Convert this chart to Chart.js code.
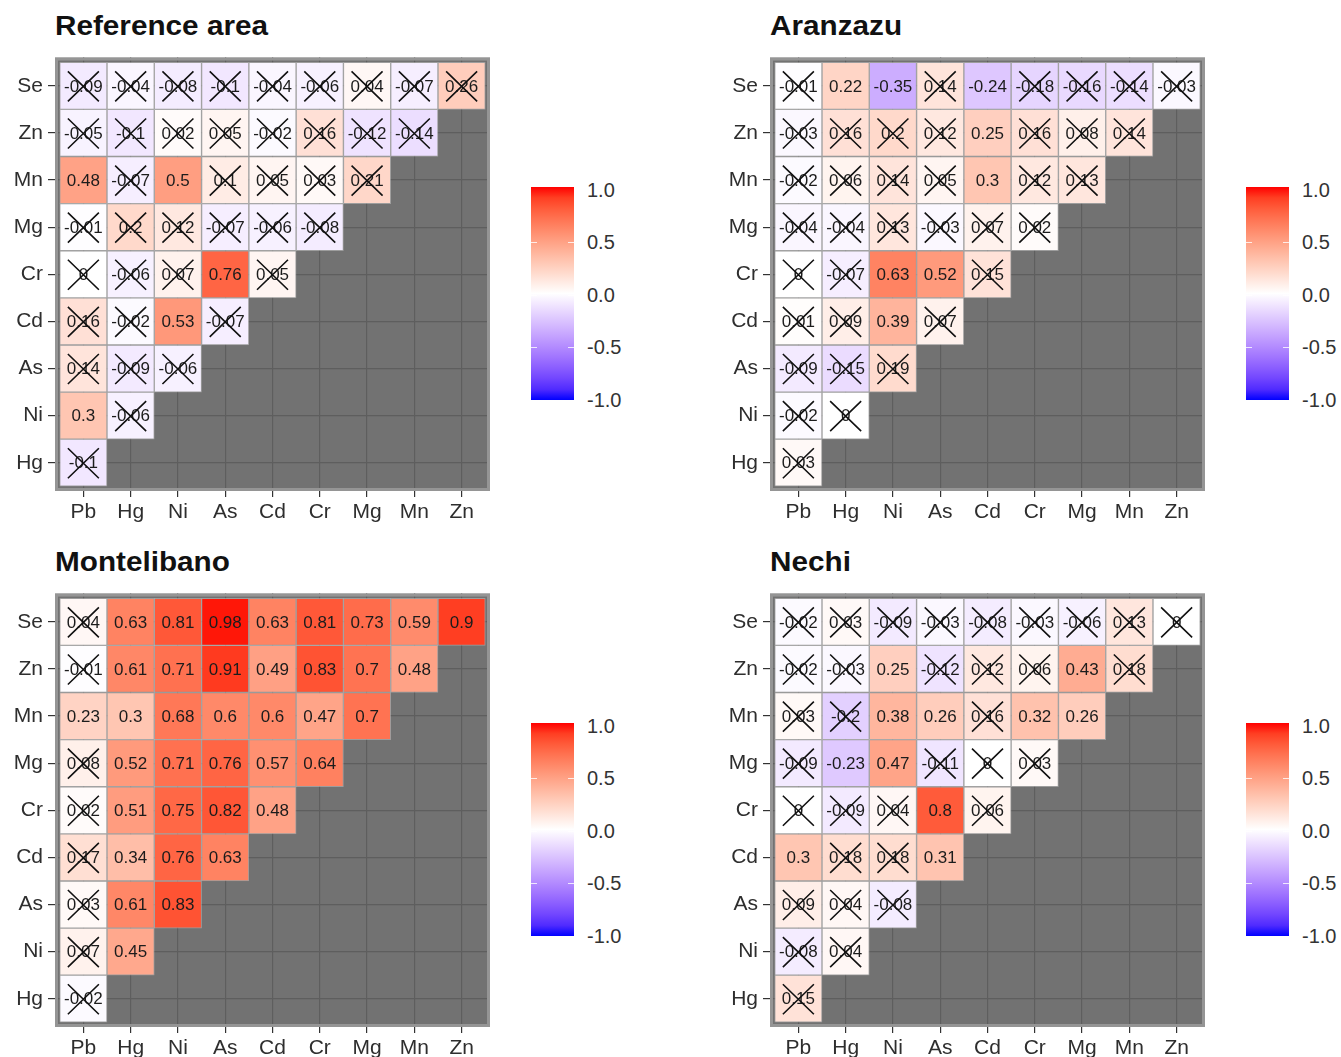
<!DOCTYPE html>
<html>
<head>
<meta charset="utf-8">
<script src="https://cdn.jsdelivr.net/npm/chart.js@4.4.1/dist/chart.umd.min.js"></script>
<style>
  body { margin: 0; background: #fff; width: 1341px; height: 1057px; overflow: hidden; position: relative;
         font-family: "Liberation Sans", Arial, sans-serif; }
  .title { position: absolute; font-weight: bold; font-size: 27px; line-height: 27px; color: #111; white-space: nowrap;
           transform: scaleX(1.1); transform-origin: left center; }
  canvas { position: absolute; }
  .cbar { position: absolute; width: 43px; height: 213px; }
  .ctick { position: absolute; width: 6px; height: 1px; background: rgba(255,255,255,0.8); }
  .clab { position: absolute; font-size: 20px; line-height: 20px; color: #333; white-space: nowrap; }
</style>
</head>
<body>
<script>
const rowNames = ['Se', 'Zn', 'Mn', 'Mg', 'Cr', 'Cd', 'As', 'Ni', 'Hg'];
const colNames = ['Pb', 'Hg', 'Ni', 'As', 'Cd', 'Cr', 'Mg', 'Mn', 'Zn'];
const legendTicks = [1, 0.5, 0, -0.5, -1];
const panelTitles = ['Reference area', 'Aranzazu', 'Montelibano', 'Nechi'];

// correlation values, one row per element (Se at top), lower triangle only
const refVals = [
  [-0.09, -0.04, -0.08, -0.1, -0.04, -0.06, 0.04, -0.07, 0.26],
  [-0.05, -0.1, 0.02, 0.05, -0.02, 0.16, -0.12, -0.14],
  [0.48, -0.07, 0.5, 0.1, 0.05, 0.03, 0.21],
  [-0.01, 0.2, 0.12, -0.07, -0.06, -0.08],
  [0, -0.06, 0.07, 0.76, 0.05],
  [0.16, -0.02, 0.53, -0.07],
  [0.14, -0.09, -0.06],
  [0.3, -0.06],
  [-0.1]
];
const aranVals = [
  [-0.01, 0.22, -0.35, 0.14, -0.24, -0.18, -0.16, -0.14, -0.03],
  [-0.03, 0.16, 0.2, 0.12, 0.25, 0.16, 0.08, 0.14],
  [-0.02, 0.06, 0.14, 0.05, 0.3, 0.12, 0.13],
  [-0.04, -0.04, 0.13, -0.03, 0.07, 0.02],
  [0, -0.07, 0.63, 0.52, 0.15],
  [0.01, 0.09, 0.39, 0.07],
  [-0.09, -0.15, 0.19],
  [-0.02, 0],
  [0.03]
];
const monteVals = [
  [0.04, 0.63, 0.81, 0.98, 0.63, 0.81, 0.73, 0.59, 0.9],
  [-0.01, 0.61, 0.71, 0.91, 0.49, 0.83, 0.7, 0.48],
  [0.23, 0.3, 0.68, 0.6, 0.6, 0.47, 0.7],
  [0.08, 0.52, 0.71, 0.76, 0.57, 0.64],
  [0.02, 0.51, 0.75, 0.82, 0.48],
  [0.17, 0.34, 0.76, 0.63],
  [0.03, 0.61, 0.83],
  [0.07, 0.45],
  [-0.02]
];
const nechiVals = [
  [-0.02, 0.03, -0.09, -0.03, -0.08, -0.03, -0.06, 0.13, 0],
  [-0.02, -0.03, 0.25, -0.12, 0.12, 0.06, 0.43, 0.18],
  [0.03, -0.2, 0.38, 0.26, 0.16, 0.32, 0.26],
  [-0.09, -0.23, 0.47, -0.11, 0, 0.03],
  [0, -0.09, 0.04, 0.8, 0.06],
  [0.3, 0.18, 0.18, 0.31],
  [0.09, 0.04, -0.08],
  [-0.08, 0.04],
  [0.15]
];

// 1 = significant, 0 = crossed out
const refSig = [
  [0, 0, 0, 0, 0, 0, 0, 0, 0],
  [0, 0, 0, 0, 0, 0, 0, 0],
  [1, 0, 1, 0, 0, 0, 0],
  [0, 0, 0, 0, 0, 0],
  [0, 0, 0, 1, 0],
  [0, 0, 1, 0],
  [0, 0, 0],
  [1, 0],
  [0]
];
const aranSig = [
  [0, 1, 1, 0, 1, 0, 0, 0, 0],
  [0, 0, 0, 0, 1, 0, 0, 0],
  [0, 0, 0, 0, 1, 0, 0],
  [0, 0, 0, 0, 0, 0],
  [0, 0, 1, 1, 0],
  [0, 0, 1, 0],
  [0, 0, 0],
  [0, 0],
  [0]
];
const monteSig = [
  [0, 1, 1, 1, 1, 1, 1, 1, 1],
  [0, 1, 1, 1, 1, 1, 1, 1],
  [1, 1, 1, 1, 1, 1, 1],
  [0, 1, 1, 1, 1, 1],
  [0, 1, 1, 1, 1],
  [0, 1, 1, 1],
  [0, 1, 1],
  [0, 1],
  [0]
];
const nechiSig = [
  [0, 0, 0, 0, 0, 0, 0, 0, 0],
  [0, 0, 1, 0, 0, 0, 1, 0],
  [0, 0, 1, 1, 0, 1, 1],
  [0, 1, 1, 0, 0, 0],
  [0, 0, 0, 1, 0],
  [1, 0, 0, 1],
  [0, 0, 0],
  [0, 0],
  [0]
];

// blue - white - red, interpolated in Lab like ggplot's gradient2
function toLin(c) { c /= 255; return c <= 0.04045 ? c / 12.92 : Math.pow((c + 0.055) / 1.055, 2.4); }
function fromLin(c) {
  c = c <= 0.0031308 ? 12.92 * c : 1.055 * Math.pow(c, 1 / 2.4) - 0.055;
  return Math.round(Math.max(0, Math.min(1, c)) * 255);
}
function rgb2lab(rgb) {
  const [r, g, b] = rgb.map(toLin);
  let x = (0.4124 * r + 0.3576 * g + 0.1805 * b) / 0.95047;
  let y = 0.2126 * r + 0.7152 * g + 0.0722 * b;
  let z = (0.0193 * r + 0.1192 * g + 0.9505 * b) / 1.08883;
  const f = t => t > 0.008856 ? Math.cbrt(t) : 7.787 * t + 16 / 116;
  x = f(x); y = f(y); z = f(z);
  return [116 * y - 16, 500 * (x - y), 200 * (y - z)];
}
function lab2rgb([L, a, bb]) {
  let y = (L + 16) / 116, x = a / 500 + y, z = y - bb / 200;
  const fi = t => t * t * t > 0.008856 ? t * t * t : (t - 16 / 116) / 7.787;
  x = fi(x) * 0.95047; y = fi(y); z = fi(z) * 1.08883;
  const r = 3.2406 * x - 1.5372 * y - 0.4986 * z;
  const g = -0.9689 * x + 1.8758 * y + 0.0415 * z;
  const b = 0.0557 * x - 0.2040 * y + 1.0570 * z;
  return [fromLin(r), fromLin(g), fromLin(b)];
}
const labBlue = rgb2lab([0, 0, 255]), labWhite = rgb2lab([255, 255, 255]), labRed = rgb2lab([255, 0, 0]);
function corrColor(v) {
  const end = v < 0 ? labBlue : labRed;
  const t = Math.min(1, Math.abs(v));
  const lab = labWhite.map((w, k) => w + (end[k] - w) * t);
  const c = lab2rgb(lab);
  return `rgb(${c[0]},${c[1]},${c[2]})`;
}

const panels = [
  { vals: refVals, sig: refSig, L: 0, T: 0 },
  { vals: aranVals, sig: aranSig, L: 715, T: 0 },
  { vals: monteVals, sig: monteSig, L: 0, T: 536 },
  { vals: nechiVals, sig: nechiSig, L: 715, T: 536 }
];

const panelBg = {
  id: 'panelBg',
  beforeDraw(chart) {
    const { ctx, chartArea: a } = chart;
    ctx.save();
    ctx.fillStyle = '#727272';
    ctx.fillRect(a.left, a.top, a.right - a.left, a.bottom - a.top);
    ctx.restore();
  },
  afterDatasetsDraw(chart) {
    const { ctx, chartArea: a } = chart;
    ctx.save();
    ctx.strokeStyle = '#959595';
    ctx.lineWidth = 3;
    ctx.strokeRect(a.left + 1.5, a.top + 1.5, a.right - a.left - 3, a.bottom - a.top - 3);
    ctx.restore();
  }
};

function cellLabels(vals, sig) {
  return {
    id: 'cellLabels',
    afterDatasetsDraw(chart) {
      const ctx = chart.ctx;
      ctx.save();
      ctx.font = '17px "Liberation Sans", Arial, sans-serif';
      ctx.textAlign = 'center';
      ctx.textBaseline = 'middle';
      vals.forEach((row, i) => {
        chart.getDatasetMeta(i).data.forEach((bar, j) => {
          const cx = bar.x, cy = (bar.y + bar.base) / 2;
          ctx.fillStyle = '#1c1c1c';
          ctx.fillText(String(row[j]), cx, cy + 1);
          if (!sig[i][j]) {
            ctx.strokeStyle = '#111';
            ctx.lineWidth = 1.6;
            ctx.beginPath();
            ctx.moveTo(cx - 15.5, cy - 14.5); ctx.lineTo(cx + 15.5, cy + 15.5);
            ctx.moveTo(cx + 15.5, cy - 14.5); ctx.lineTo(cx - 15.5, cy + 15.5);
            ctx.stroke();
          }
        });
      });
      ctx.restore();
    }
  };
}

const axisFont = { family: '"Liberation Sans", Arial, sans-serif', size: 21 };

panels.forEach((p, k) => {
  const title = document.createElement('div');
  title.className = 'title';
  title.textContent = panelTitles[k];
  title.style.left = (p.L + 55) + 'px';
  title.style.top = (p.T + 13) + 'px';
  document.body.appendChild(title);

  const cv = document.createElement('canvas');
  cv.width = 490; cv.height = 495;
  cv.style.left = p.L + 'px';
  cv.style.top = (p.T + 40) + 'px';
  document.body.appendChild(cv);

  const datasets = p.vals.map((row, i) => ({
    data: row.map((v, j) => ({ x: j, y: [i - 0.5, i + 0.5] })),
    backgroundColor: row.map(corrColor),
    borderColor: 'rgba(200,200,200,0.5)',
    borderWidth: 1,
    borderSkipped: false,
    grouped: false,
    barPercentage: 1,
    categoryPercentage: 1
  }));

  new Chart(cv, {
    type: 'bar',
    data: { datasets },
    options: {
      responsive: false,
      animation: false,
      layout: { padding: { top: 17, left: 0, right: 0, bottom: 0 } },
      plugins: { legend: { display: false }, tooltip: { enabled: false } },
      scales: {
        x: {
          type: 'linear', offset: false,
          min: -0.6, max: colNames.length - 0.4,
          afterBuildTicks: s => { s.ticks = colNames.map((c, i) => ({ value: i })); },
          afterFit: s => { s.height = 44; },
          grid: { offset: false, color: '#5e5e5e', lineWidth: 1.2, tickColor: '#333', tickLength: 6 },
          border: { display: false },
          ticks: { autoSkip: false, maxRotation: 0, padding: 3, color: '#2e2e2e', font: axisFont,
                   callback: v => colNames[v] }
        },
        y: {
          type: 'linear', reverse: true,
          min: -0.6, max: rowNames.length - 0.4,
          afterBuildTicks: s => { s.ticks = rowNames.map((r, i) => ({ value: i })); },
          afterFit: s => { s.width = 55; },
          grid: { color: '#5e5e5e', lineWidth: 1.2, tickColor: '#333', tickLength: 7 },
          border: { display: false },
          ticks: { autoSkip: false, padding: 5, color: '#2e2e2e', font: axisFont,
                   callback: v => rowNames[v] }
        }
      }
    },
    plugins: [panelBg, cellLabels(p.vals, p.sig)]
  });

  // colour bar legend
  const stops = [];
  for (let s = 0; s <= 20; s++) {
    const v = 1 - s / 10;
    stops.push(`${corrColor(v)} ${(s / 20 * 100).toFixed(1)}%`);
  }
  const bar = document.createElement('div');
  bar.className = 'cbar';
  bar.style.left = (p.L + 531) + 'px';
  bar.style.top = (p.T + 187) + 'px';
  bar.style.background = `linear-gradient(to bottom, ${stops.join(', ')})`;
  document.body.appendChild(bar);

  legendTicks.forEach(v => {
    const y = p.T + 294.5 - v * 105;
    if (Math.abs(v) < 1) {
      [p.L + 531, p.L + 568].forEach(x => {
        const t = document.createElement('div');
        t.className = 'ctick';
        t.style.left = x + 'px';
        t.style.top = Math.round(y) + 'px';
        document.body.appendChild(t);
      });
    }
    const lab = document.createElement('div');
    lab.className = 'clab';
    lab.textContent = v.toFixed(1);
    lab.style.left = (p.L + 587) + 'px';
    lab.style.top = (y - 10) + 'px';
    document.body.appendChild(lab);
  });
});
</script>
</body>
</html>
